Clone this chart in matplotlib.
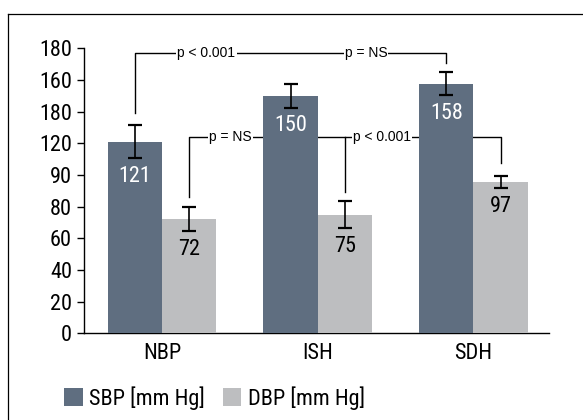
import matplotlib
matplotlib.use("Agg")
import matplotlib.pyplot as plt
from matplotlib.lines import Line2D
from matplotlib import font_manager as fm
import numpy as np

categories = ["NBP", "ISH", "SDH"]
sbp = [121, 150, 157.5]
dbp = [72, 75, 95.5]
sbp_err = [10.4, 7.5, 7.3]
dbp_err = [7.7, 8.7, 4.0]
sbp_labels = ["121", "150", "158"]
dbp_labels = ["72", "75", "97"]
ytick_vals = [0, 20, 40, 60, 80, 100, 120, 140, 160, 180]
ytick_labels = ["0", "20", "40", "60", "80", "90", "120", "180", "160", "180"]
series_names = ["SBP [mm Hg]", "DBP [mm Hg]"]
p_top = ["p < 0.001", "p = NS"]
p_mid = ["p = NS", "p < 0.001"]

c_sbp = "#5f6e80"
c_dbp = "#bdbec0"

# pick a narrow font if one is installed, else Liberation Sans
names = {f.name for f in fm.fontManager.ttflist}
narrow = None
for cand in ["Liberation Sans Narrow", "Arial Narrow", "Nimbus Sans Narrow",
             "Roboto Condensed"]:
    if cand in names:
        narrow = cand
        break
if narrow:
    big_family = [narrow, "DejaVu Sans"]
    big = 16
    leg_size = 16
else:
    big_family = ["Liberation Sans", "DejaVu Sans"]
    big = 14
    leg_size = 14
plt.rcParams['font.family'] = big_family
small_family = ["Liberation Sans", "DejaVu Sans"]

fig = plt.figure(figsize=(5.83, 4.2), dpi=100)
ax = fig.add_axes([84/583, 1-333.3/420, (549-84)/583, (333.3-48.3)/420])

x = np.arange(len(categories))
w = 0.348
xs = x - w/2
xd = x + w/2

b1 = ax.bar(xs, sbp, w, color=c_sbp, zorder=3, label=series_names[0])
b2 = ax.bar(xd, dbp, w, color=c_dbp, zorder=3, label=series_names[1])
ek = dict(fmt='none', ecolor='black', elinewidth=1.2, capsize=5.1, capthick=1.6, zorder=4)
ax.errorbar(xs, sbp, yerr=sbp_err, **ek)
ax.errorbar(xd, dbp, yerr=dbp_err, **ek)

for i in range(len(categories)):
    ax.text(xs[i], sbp[i]-sbp_err[i]-11.3, sbp_labels[i], color='white', ha='center',
            va='center', fontsize=big, zorder=5)
    ax.text(xd[i], dbp[i]-dbp_err[i]-11.3, dbp_labels[i], color='black', ha='center',
            va='center', fontsize=big, zorder=5)

# significance brackets
lk = dict(color='black', lw=1.0, zorder=1, clip_on=False)
top = 177.2
ax.add_line(Line2D([xs[0], xs[0], xs[2], xs[2]], [138.9, top, top, 170.5], **lk))
mid = 123.8
ax.add_line(Line2D([xd[0], xd[0], xd[2], xd[2]], [86.3, mid, mid, 107.7], **lk))
ax.add_line(Line2D([xd[1], xd[1]], [mid, 89.4], **lk))

tk = dict(ha='center', va='center', fontsize=10, zorder=4, family=small_family,
          bbox=dict(facecolor='white', edgecolor='none', pad=0.8))
ax.text(0.286, top, p_top[0], **tk)
ax.text(1.310, top, p_top[1], **tk)
ax.text(0.442, mid, p_mid[0], **tk)
ax.text(1.411, mid, p_mid[1], **tk)

ax.set_xlim(-0.5, 2.485)
ax.set_ylim(0, 180)
ax.set_yticks(ytick_vals)
ax.set_yticklabels(ytick_labels)
ax.set_xticks(x)
ax.set_xticklabels(categories)
ax.tick_params(axis='x', length=0, pad=7, labelsize=big)
ax.tick_params(axis='y', length=5, width=1, pad=3.6, labelsize=big)
for s in ['top', 'right']:
    ax.spines[s].set_visible(False)
ax.spines['left'].set_linewidth(1.0)
ax.spines['bottom'].set_linewidth(1.0)

fpx = leg_size * 100 / 72
fig.legend(handles=[b1, b2], labels=series_names, loc='center left',
           bbox_to_anchor=(64/583, 1-398/420), ncol=2, frameon=False,
           fontsize=leg_size, handlelength=18.7/fpx, handleheight=20/fpx,
           handletextpad=6.3/fpx, columnspacing=18/fpx, borderaxespad=0, borderpad=0)

# outer frame
fig.add_artist(Line2D([8/583, 8/583], [0, 1-14/420], transform=fig.transFigure,
                      color='black', lw=0.9))
fig.add_artist(Line2D([8/583, 1], [1-14/420, 1-14/420], transform=fig.transFigure,
                      color='black', lw=0.9))

fig.savefig("out.png", dpi=100)
